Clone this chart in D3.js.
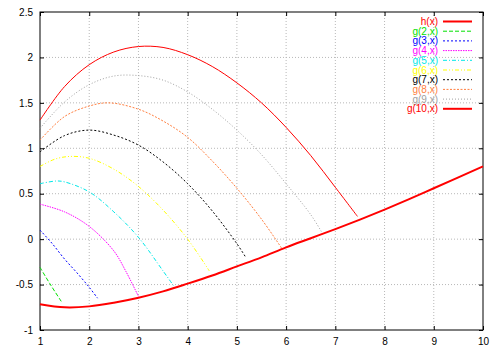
<!DOCTYPE html>
<meta charset='utf-8'>
<title>h(x) and g(n,x)</title>
<style>
body {
  margin: 0;
  background-color: #fff;
}
text {
  font-family: "Liberation Sans", Arial, sans-serif;
  font-size: 10px;
}
</style>
<svg width="500" height="350"></svg>
<script src="https://d3js.org/d3.v7.min.js"></script>
<script>

// Values, one array per curve: [x, y]
var hx = [[1,-0.716],[1.5,-0.75],[2,-0.74],[2.5,-0.70],[3,-0.645],[3.5,-0.575],[4,-0.49],[4.5,-0.40],[5,-0.30],[5.5,-0.20],[6,-0.09],[6.5,0.01],[7,0.11],[7.5,0.215],[8,0.325],[8.5,0.44],[9,0.56],[9.5,0.68],[10,0.80]];
var g2 = [[1,-0.31],[1.2,-0.49],[1.45,-0.70]];
var g3 = [[1,0.10],[1.25,-0.05],[1.5,-0.22],[1.75,-0.37],[2,-0.53],[2.17,-0.65]];
var g4 = [[1,0.385],[1.5,0.30],[2,0.14],[2.5,-0.13],[2.75,-0.36],[3.0,-0.63]];
var g5 = [[1,0.61],[1.33,0.64],[1.5,0.63],[2,0.52],[2.5,0.30],[3,0.02],[3.5,-0.35],[3.71,-0.51]];
var g6 = [[1,0.80],[1.3,0.88],[1.6,0.91],[2,0.89],[2.5,0.77],[3,0.58],[3.5,0.32],[4,0.0],[4.44,-0.35]];
var g7 = [[1,0.96],[1.5,1.14],[2,1.20],[2.5,1.145],[3,1.035],[3.5,0.85],[4,0.61],[4.5,0.31],[5,-0.05],[5.18,-0.20]];
var g8 = [[1,1.09],[1.5,1.35],[2,1.465],[2.4,1.50],[3,1.43],[3.5,1.30],[4,1.12],[4.5,0.86],[5,0.56],[5.5,0.22],[5.91,-0.10]];
var g9 = [[1,1.22],[1.5,1.51],[2,1.70],[2.5,1.795],[3,1.80],[3.5,1.75],[4,1.62],[4.5,1.43],[5,1.20],[5.5,0.93],[6,0.61],[6.5,0.27],[6.72,0.08]];
var g10 = [[1,1.31],[1.5,1.68],[2,1.92],[2.5,2.06],[3,2.12],[3.5,2.11],[4,2.03],[4.5,1.90],[5,1.72],[5.5,1.50],[6,1.23],[6.5,0.92],[7,0.57],[7.45,0.25]];

var labels = ["h(x)", "g(2,x)", "g(3,x)", "g(4,x)", "g(5,x)", "g(6,x)", "g(7,x)", "g(8,x)", "g(9,x)", "g(10,x)"];
var xTicks = [1, 2, 3, 4, 5, 6, 7, 8, 9, 10];
var yTicks = [-1, -0.5, 0, 0.5, 1, 1.5, 2, 2.5];

var series = [hx, g2, g3, g4, g5, g6, g7, g8, g9, g10];
var colors = ["#ff0000", "#00e000", "#0000ff", "#ff00ff", "#00e8e8", "#ffff00", "#000000", "#ff7f40", "#a0a0a0", "#ff0000"];
var dashes = [null, "4,2", "2,2", "1.5,1", "4,2,1,2", "4,2,1,2,1,2", "2,2", "2,1.5", "1,2", null];
var widths = [2, 1, 1, 1, 1, 1, 1, 1, 1, 1];

var svg = d3.select("svg");

// plot area in pixels
var pL = 40, pR = 483, pT = 12, pB = 330;

var x = d3.scaleLinear().domain([1, 10]).range([pL, pR]);
var y = d3.scaleLinear().domain([-1, 2.5]).range([pB, pT]);

// grid
svg.append("g")
    .selectAll("line")
    .data(xTicks.slice(1, -1))
  .enter().append("line")
    .attr("x1", function(d) { return x(d); })
    .attr("x2", function(d) { return x(d); })
    .attr("y1", pT).attr("y2", pB)
    .attr("stroke", "#b8b8b8")
    .attr("stroke-dasharray", "1,2");

svg.append("g")
    .selectAll("line")
    .data(yTicks.slice(1, -1))
  .enter().append("line")
    .attr("x1", pL).attr("x2", pR)
    .attr("y1", function(d) { return y(d); })
    .attr("y2", function(d) { return y(d); })
    .attr("stroke", "#b8b8b8")
    .attr("stroke-dasharray", "1,2");

// axes (ticks inward, mirrored)
var xAxis = svg.append("g")
    .attr("transform", "translate(0," + pB + ")")
    .call(d3.axisBottom(x).tickValues(xTicks).tickSize(-4).tickPadding(8).tickFormat(d3.format("d")));
var xTop = svg.append("g")
    .attr("transform", "translate(0," + pT + ")")
    .call(d3.axisTop(x).tickValues(xTicks).tickSize(-4).tickFormat(""));
var yAxis = svg.append("g")
    .attr("transform", "translate(" + pL + ",0)")
    .call(d3.axisLeft(y).tickValues(yTicks).tickSize(-4).tickPadding(7).tickFormat(function(d) { return String(d); }));
var yRight = svg.append("g")
    .attr("transform", "translate(" + pR + ",0)")
    .call(d3.axisRight(y).tickValues(yTicks).tickSize(-4).tickFormat(""));

[xAxis, xTop, yAxis, yRight].forEach(function(g) {
  g.select(".domain").remove();
  g.selectAll("text").attr("fill", "#000").style("font-size", "10px")
      .style("font-family", "'Liberation Sans', Arial, sans-serif");
  g.selectAll("line").attr("stroke", "#000");
});

// frame
svg.append("rect")
    .attr("x", pL).attr("y", pT)
    .attr("width", pR - pL).attr("height", pB - pT)
    .attr("fill", "none")
    .attr("stroke", "#000")
    .attr("stroke-width", 1);

// curves
var line = d3.line()
    .x(function(d) { return x(d[0]); })
    .y(function(d) { return y(d[1]); })
    .curve(d3.curveCatmullRom.alpha(0.5));

svg.append("g")
    .selectAll("path")
    .data(series)
  .enter().append("path")
    .attr("d", line)
    .attr("fill", "none")
    .attr("stroke", function(d, i) { return colors[i]; })
    .attr("stroke-width", function(d, i) { return widths[i]; })
    .attr("stroke-dasharray", function(d, i) { return dashes[i]; });

// legend
var legend = svg.append("g")
    .selectAll("g")
    .data(labels)
  .enter().append("g")
    .attr("transform", function(d, i) { return "translate(0," + (21.5 + i * 9.7) + ")"; });

legend.append("text")
    .attr("x", 438)
    .attr("dy", "0.35em")
    .attr("text-anchor", "end")
    .attr("fill", function(d, i) { return colors[i]; })
    .text(function(d) { return d; });

legend.append("line")
    .attr("x1", 443).attr("x2", 472)
    .attr("stroke", function(d, i) { return colors[i]; })
    .attr("stroke-width", function(d, i) { return i === 0 || i === 9 ? 2 : 1; })
    .attr("stroke-dasharray", function(d, i) { return dashes[i]; });

</script>
